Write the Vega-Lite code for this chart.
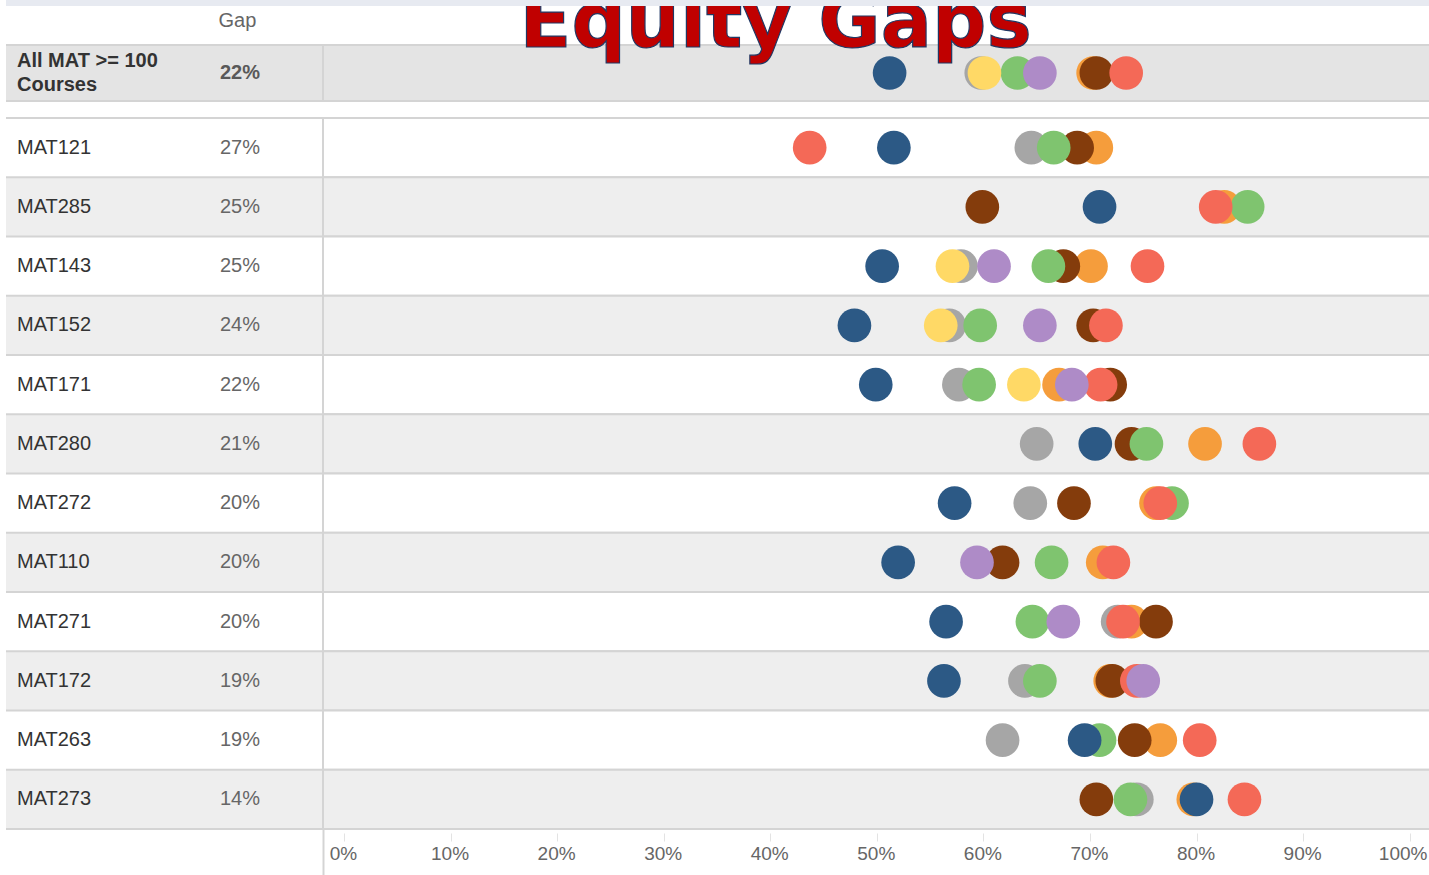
{
  "$schema": "https://vega.github.io/schema/vega-lite/v6.json",
  "padding": {"left": 5, "top": 0, "right": 0, "bottom": 0},
  "background": "white",
  "config": {"view": {"stroke": null}, "font": "Liberation Sans"},
  "datasets": {
    "summary": [{"Course": "All MAT >= 100\nCourses", "Gap": 0.22}],
    "summaryDots": [
      {"Course": "All MAT >= 100\nCourses", "Group": "Group A", "Rate": 0.598},
      {"Course": "All MAT >= 100\nCourses", "Group": "Group B", "Rate": 0.703},
      {"Course": "All MAT >= 100\nCourses", "Group": "Group C", "Rate": 0.706},
      {"Course": "All MAT >= 100\nCourses", "Group": "Group D", "Rate": 0.632},
      {"Course": "All MAT >= 100\nCourses", "Group": "Group E", "Rate": 0.601},
      {"Course": "All MAT >= 100\nCourses", "Group": "Group F", "Rate": 0.734},
      {"Course": "All MAT >= 100\nCourses", "Group": "Group G", "Rate": 0.653},
      {"Course": "All MAT >= 100\nCourses", "Group": "Group H", "Rate": 0.512}
    ],
    "courses": [
      {"Course": "MAT121", "Gap": 0.27},
      {"Course": "MAT285", "Gap": 0.25},
      {"Course": "MAT143", "Gap": 0.25},
      {"Course": "MAT152", "Gap": 0.24},
      {"Course": "MAT171", "Gap": 0.22},
      {"Course": "MAT280", "Gap": 0.21},
      {"Course": "MAT272", "Gap": 0.20},
      {"Course": "MAT110", "Gap": 0.20},
      {"Course": "MAT271", "Gap": 0.20},
      {"Course": "MAT172", "Gap": 0.19},
      {"Course": "MAT263", "Gap": 0.19},
      {"Course": "MAT273", "Gap": 0.14}
    ],
    "dots": [
      {"Course": "MAT121", "Group": "Group A", "Rate": 0.645},
      {"Course": "MAT121", "Group": "Group B", "Rate": 0.706},
      {"Course": "MAT121", "Group": "Group C", "Rate": 0.688},
      {"Course": "MAT121", "Group": "Group D", "Rate": 0.666},
      {"Course": "MAT121", "Group": "Group F", "Rate": 0.437},
      {"Course": "MAT121", "Group": "Group H", "Rate": 0.516},

      {"Course": "MAT285", "Group": "Group B", "Rate": 0.826},
      {"Course": "MAT285", "Group": "Group C", "Rate": 0.599},
      {"Course": "MAT285", "Group": "Group D", "Rate": 0.848},
      {"Course": "MAT285", "Group": "Group F", "Rate": 0.818},
      {"Course": "MAT285", "Group": "Group H", "Rate": 0.709},

      {"Course": "MAT143", "Group": "Group A", "Rate": 0.579},
      {"Course": "MAT143", "Group": "Group B", "Rate": 0.701},
      {"Course": "MAT143", "Group": "Group C", "Rate": 0.675},
      {"Course": "MAT143", "Group": "Group D", "Rate": 0.661},
      {"Course": "MAT143", "Group": "Group E", "Rate": 0.571},
      {"Course": "MAT143", "Group": "Group F", "Rate": 0.754},
      {"Course": "MAT143", "Group": "Group G", "Rate": 0.610},
      {"Course": "MAT143", "Group": "Group H", "Rate": 0.505},

      {"Course": "MAT152", "Group": "Group A", "Rate": 0.568},
      {"Course": "MAT152", "Group": "Group C", "Rate": 0.703},
      {"Course": "MAT152", "Group": "Group D", "Rate": 0.597},
      {"Course": "MAT152", "Group": "Group E", "Rate": 0.560},
      {"Course": "MAT152", "Group": "Group F", "Rate": 0.715},
      {"Course": "MAT152", "Group": "Group G", "Rate": 0.653},
      {"Course": "MAT152", "Group": "Group H", "Rate": 0.479},

      {"Course": "MAT171", "Group": "Group A", "Rate": 0.577},
      {"Course": "MAT171", "Group": "Group B", "Rate": 0.671},
      {"Course": "MAT171", "Group": "Group C", "Rate": 0.719},
      {"Course": "MAT171", "Group": "Group D", "Rate": 0.596},
      {"Course": "MAT171", "Group": "Group E", "Rate": 0.638},
      {"Course": "MAT171", "Group": "Group F", "Rate": 0.710},
      {"Course": "MAT171", "Group": "Group G", "Rate": 0.683},
      {"Course": "MAT171", "Group": "Group H", "Rate": 0.499},

      {"Course": "MAT280", "Group": "Group A", "Rate": 0.650},
      {"Course": "MAT280", "Group": "Group B", "Rate": 0.808},
      {"Course": "MAT280", "Group": "Group C", "Rate": 0.739},
      {"Course": "MAT280", "Group": "Group D", "Rate": 0.753},
      {"Course": "MAT280", "Group": "Group F", "Rate": 0.859},
      {"Course": "MAT280", "Group": "Group H", "Rate": 0.705},

      {"Course": "MAT272", "Group": "Group A", "Rate": 0.644},
      {"Course": "MAT272", "Group": "Group B", "Rate": 0.762},
      {"Course": "MAT272", "Group": "Group C", "Rate": 0.685},
      {"Course": "MAT272", "Group": "Group D", "Rate": 0.777},
      {"Course": "MAT272", "Group": "Group F", "Rate": 0.766},
      {"Course": "MAT272", "Group": "Group H", "Rate": 0.573},

      {"Course": "MAT110", "Group": "Group B", "Rate": 0.712},
      {"Course": "MAT110", "Group": "Group C", "Rate": 0.618},
      {"Course": "MAT110", "Group": "Group D", "Rate": 0.664},
      {"Course": "MAT110", "Group": "Group F", "Rate": 0.722},
      {"Course": "MAT110", "Group": "Group G", "Rate": 0.594},
      {"Course": "MAT110", "Group": "Group H", "Rate": 0.520},

      {"Course": "MAT271", "Group": "Group A", "Rate": 0.726},
      {"Course": "MAT271", "Group": "Group B", "Rate": 0.739},
      {"Course": "MAT271", "Group": "Group C", "Rate": 0.762},
      {"Course": "MAT271", "Group": "Group D", "Rate": 0.646},
      {"Course": "MAT271", "Group": "Group F", "Rate": 0.731},
      {"Course": "MAT271", "Group": "Group G", "Rate": 0.675},
      {"Course": "MAT271", "Group": "Group H", "Rate": 0.565},

      {"Course": "MAT172", "Group": "Group A", "Rate": 0.639},
      {"Course": "MAT172", "Group": "Group B", "Rate": 0.719},
      {"Course": "MAT172", "Group": "Group C", "Rate": 0.721},
      {"Course": "MAT172", "Group": "Group D", "Rate": 0.653},
      {"Course": "MAT172", "Group": "Group F", "Rate": 0.744},
      {"Course": "MAT172", "Group": "Group G", "Rate": 0.750},
      {"Course": "MAT172", "Group": "Group H", "Rate": 0.563},

      {"Course": "MAT263", "Group": "Group A", "Rate": 0.618},
      {"Course": "MAT263", "Group": "Group B", "Rate": 0.766},
      {"Course": "MAT263", "Group": "Group C", "Rate": 0.742},
      {"Course": "MAT263", "Group": "Group D", "Rate": 0.709},
      {"Course": "MAT263", "Group": "Group F", "Rate": 0.803},
      {"Course": "MAT263", "Group": "Group H", "Rate": 0.695},

      {"Course": "MAT273", "Group": "Group A", "Rate": 0.744},
      {"Course": "MAT273", "Group": "Group B", "Rate": 0.797},
      {"Course": "MAT273", "Group": "Group C", "Rate": 0.706},
      {"Course": "MAT273", "Group": "Group D", "Rate": 0.738},
      {"Course": "MAT273", "Group": "Group F", "Rate": 0.845},
      {"Course": "MAT273", "Group": "Group H", "Rate": 0.800}
    ]
  },
  "spacing": 0,
  "vconcat": [
    {
      "width": 1424,
      "height": 6,
      "data": {"values": [{}]},
      "mark": {"type": "rect", "fill": "#e7eaf1"},
      "encoding": {}
    },
    {
      "spacing": 0,
      "bounds": "flush",
      "hconcat": [
        {
          "width": 317,
          "height": 95,
          "data": {"name": "summary"},
          "encoding": {
            "y": {"field": "Course", "type": "nominal", "scale": {"range": [39, 95], "paddingInner": 0, "paddingOuter": 0}, "axis": null}
          },
          "layer": [
            {"mark": {"type": "rect", "fill": "#e4e4e4"}},
            {"mark": {"type": "rule", "stroke": "#d4d4d4", "strokeWidth": 2}, "encoding": {"y": {"field": "Course", "type": "nominal", "bandPosition": 0}}},
            {"mark": {"type": "rule", "stroke": "#d4d4d4", "strokeWidth": 2}, "encoding": {"y": {"field": "Course", "type": "nominal", "bandPosition": 1}}},
            {
              "mark": {"type": "text", "align": "left", "baseline": "middle", "fontSize": 20, "fontWeight": "bold", "fill": "#333333", "lineBreak": "\n", "lineHeight": 24, "dy": -12},
              "encoding": {
                "x": {"datum": "Course", "type": "nominal", "scale": {"type": "point", "domain": ["Course", "Gap"], "range": [11, 214], "padding": 0},
                  "axis": {"orient": "top", "offset": -39, "domain": false, "ticks": false, "tickSize": 0, "grid": false, "title": null, "labelExpr": "datum.value == 'Gap' ? 'Gap' : ''", "labelAlign": "left", "labelBaseline": "middle", "labelPadding": 25, "labelFontSize": 20, "labelColor": "#666666", "labelFont": "Liberation Sans", "labelOffset": -2, "labelAngle": 0}},
                "text": {"field": "Course"}
              }
            },
            {
              "mark": {"type": "text", "align": "left", "baseline": "middle", "fontSize": 20, "fontWeight": "bold", "fill": "#595959"},
              "encoding": {
                "x": {"datum": "Gap", "type": "nominal"},
                "text": {"field": "Gap", "format": ".0%"}
              }
            }
          ]
        },
        {
          "width": 1107,
          "height": 95,
          "layer": [
            {
              "data": {"name": "summary"},
              "mark": {"type": "rect", "fill": "#e4e4e4", "stroke": "#d4d4d4", "strokeWidth": 2},
              "encoding": {"y": {"field": "Course", "type": "nominal", "scale": {"range": [39, 95], "paddingInner": 0, "paddingOuter": 0}, "axis": null}}
            },
            {
              "data": {"name": "summaryDots"},
              "mark": {"type": "point", "shape": "circle", "filled": true, "opacity": 1, "size": 1134, "strokeWidth": 0},
              "encoding": {
                "x": {"field": "Rate", "type": "quantitative", "scale": {"domain": [-0.0197, 1.0191], "nice": false, "zero": false}, "axis": null},
                "y": {"field": "Course", "type": "nominal", "axis": null},
                "color": {"field": "Group", "type": "nominal", "legend": null,
                  "scale": {"domain": ["Group A", "Group B", "Group C", "Group D", "Group E", "Group F", "Group G", "Group H"],
                            "range": ["#a6a6a6", "#f59d3c", "#843c0c", "#7fc46f", "#ffd966", "#f46957", "#ae8bc7", "#2c5985"]}}
              }
            },
            {
              "data": {"name": "summary"},
              "mark": {"type": "text", "text": "Equity Gaps", "font": "DejaVu Sans", "fontSize": 76, "fontWeight": "bold", "fill": "#c00000", "stroke": "#203864", "strokeWidth": 1.2, "align": "center", "baseline": "alphabetic", "dy": -26, "clip": true},
              "encoding": {
                "x": {"datum": 0.405, "type": "quantitative"},
                "y": {"field": "Course", "type": "nominal"}
              }
            }
          ]
        }
      ]
    },
    {
      "spacing": 0,
      "bounds": "flush",
      "hconcat": [
        {
          "width": 317,
          "height": 727,
          "data": {"name": "courses"},
          "encoding": {
            "y": {"field": "Course", "type": "nominal", "axis": null,
              "scale": {"domain": ["MAT121", "MAT285", "MAT143", "MAT152", "MAT171", "MAT280", "MAT272", "MAT110", "MAT271", "MAT172", "MAT263", "MAT273"], "range": [16, 727], "paddingInner": 0, "paddingOuter": 0}}
          },
          "layer": [
            {"mark": {"type": "rect"}, "encoding": {"fill": {"condition": {"test": "indexof(['MAT285','MAT152','MAT280','MAT110','MAT172','MAT273'], datum.Course) >= 0", "value": "#eeeeee"}, "value": "#ffffff"}}},
            {"mark": {"type": "rule", "stroke": "#d4d4d4", "strokeWidth": 2}, "encoding": {"y": {"field": "Course", "type": "nominal", "bandPosition": 0}}},
            {"transform": [{"filter": "datum.Course == 'MAT273'"}], "mark": {"type": "rule", "stroke": "#d4d4d4", "strokeWidth": 2}, "encoding": {"y": {"field": "Course", "type": "nominal", "bandPosition": 1}}},
            {
              "mark": {"type": "text", "align": "left", "baseline": "middle", "fontSize": 20, "fill": "#333333"},
              "encoding": {
                "x": {"datum": "Course", "type": "nominal", "scale": {"type": "point", "domain": ["Course", "Gap"], "range": [11, 214], "padding": 0}, "axis": null},
                "text": {"field": "Course"}
              }
            },
            {
              "mark": {"type": "text", "align": "left", "baseline": "middle", "fontSize": 20, "fill": "#666666"},
              "encoding": {
                "x": {"datum": "Gap", "type": "nominal"},
                "text": {"field": "Gap", "format": ".0%"}
              }
            }
          ]
        },
        {
          "width": 1107,
          "height": 727,
          "resolve": {"axis": {"x": "independent"}},
          "layer": [
            {
              "data": {"name": "courses"},
              "mark": {"type": "rect", "stroke": "#d4d4d4", "strokeWidth": 2},
              "encoding": {
                "y": {"field": "Course", "type": "nominal", "axis": null,
                  "scale": {"domain": ["MAT121", "MAT285", "MAT143", "MAT152", "MAT171", "MAT280", "MAT272", "MAT110", "MAT271", "MAT172", "MAT263", "MAT273"], "range": [16, 727], "paddingInner": 0, "paddingOuter": 0}},
                "fill": {"condition": {"test": "indexof(['MAT285','MAT152','MAT280','MAT110','MAT172','MAT273'], datum.Course) >= 0", "value": "#eeeeee"}, "value": "#ffffff"}
              }
            },
            {
              "data": {"values": [{}]},
              "mark": {"type": "rule", "strokeOpacity": 0},
              "encoding": {
                "x": {"datum": -0.0197, "type": "quantitative", "scale": {"domain": [-0.0197, 1.0191], "nice": false, "zero": false},
                  "axis": {"orient": "bottom", "values": [-0.0197], "labels": false, "domain": false, "grid": false, "ticks": true, "tickSize": 47, "tickColor": "#d4d4d4", "tickWidth": 2, "title": null}}
              }
            },
            {
              "data": {"name": "dots"},
              "mark": {"type": "point", "shape": "circle", "filled": true, "opacity": 1, "size": 1134, "strokeWidth": 0},
              "encoding": {
                "x": {"field": "Rate", "type": "quantitative",
                  "axis": {"orient": "bottom", "values": [0, 0.1, 0.2, 0.3, 0.4, 0.5, 0.6, 0.7, 0.8, 0.9, 1], "format": ".0%", "domain": false, "grid": false, "ticks": true, "tickColor": "#e3e3e3", "tickSize": 8, "tickWidth": 1, "offset": 4, "labelPadding": 3, "labelFontSize": 19, "labelColor": "#666666", "labelFont": "Liberation Sans", "labelFlush": false, "labelOverlap": false, "title": null,
                    "labelOffset": {"condition": {"test": "datum.value == 1", "value": -7}, "value": -1}}},
                "y": {"field": "Course", "type": "nominal"},
                "color": {"field": "Group", "type": "nominal", "legend": null,
                  "scale": {"domain": ["Group A", "Group B", "Group C", "Group D", "Group E", "Group F", "Group G", "Group H"],
                            "range": ["#a6a6a6", "#f59d3c", "#843c0c", "#7fc46f", "#ffd966", "#f46957", "#ae8bc7", "#2c5985"]}}
              }
            }
          ]
        }
      ]
    }
  ]
}
